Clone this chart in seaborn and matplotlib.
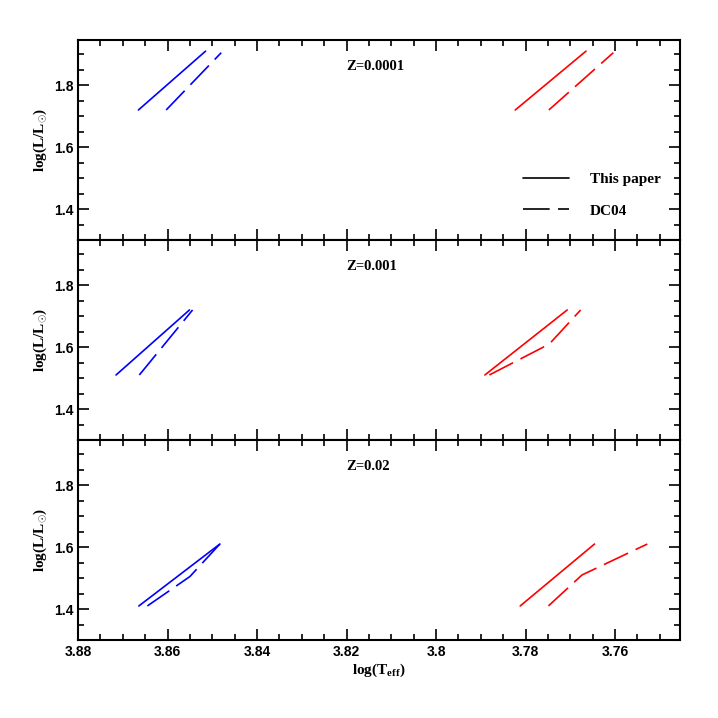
import matplotlib
matplotlib.use("Agg")
import matplotlib.pyplot as plt
import seaborn as sns
import pandas as pd
from matplotlib.lines import Line2D
from matplotlib.ticker import MultipleLocator

sns.set_theme(style="ticks")
plt.rcParams.update({
    "mathtext.fontset": "custom",
    "mathtext.rm": "Liberation Serif:bold",
    "mathtext.it": "Liberation Serif:bold",
    "mathtext.bf": "Liberation Serif:bold",
    "text.color": "black",
    "axes.labelcolor": "black",
    "xtick.color": "black",
    "ytick.color": "black",
    "axes.edgecolor": "black",
})

# ---- data (log Teff, log L) ----
Z_LABELS = ["Z=0.0001", "Z=0.001", "Z=0.02"]

# Z = 0.0001
z1_blue_this_T = [3.8665, 3.8515]
z1_blue_this_L = [1.72, 1.91]
z1_blue_dc_T = [3.8603, 3.8480]
z1_blue_dc_L = [1.72, 1.905]
z1_red_this_T = [3.7823, 3.7665]
z1_red_this_L = [1.72, 1.91]
z1_red_dc_T = [3.7748, 3.7604]
z1_red_dc_L = [1.72, 1.905]

# Z = 0.001
z2_blue_this_T = [3.8715, 3.8551]
z2_blue_this_L = [1.51, 1.72]
z2_blue_dc_T = [3.8663, 3.8544]
z2_blue_dc_L = [1.51, 1.72]
z2_red_this_T = [3.7891, 3.7707]
z2_red_this_L = [1.51, 1.72]
z2_red_dc_T = [3.7881, 3.7747, 3.7677]
z2_red_dc_L = [1.51, 1.61, 1.72]

# Z = 0.02
z3_blue_this_T = [3.8664, 3.8483]
z3_blue_this_L = [1.41, 1.61]
z3_blue_dc_T = [3.8645, 3.8550, 3.8483]
z3_blue_dc_L = [1.41, 1.505, 1.61]
z3_red_this_T = [3.7812, 3.7646]
z3_red_this_L = [1.41, 1.61]
z3_red_dc_T = [3.7749, 3.7674, 3.7528]
z3_red_dc_L = [1.41, 1.51, 1.61]

MODELS = ["This paper", "DC04"]
X_TICKS = [3.88, 3.86, 3.84, 3.82, 3.8, 3.78, 3.76]
X_TICK_LABELS = ["3.88", "3.86", "3.84", "3.82", "3.8", "3.78", "3.76"]
Y_TICKS = [1.4, 1.6, 1.8]
Y_TICK_LABELS = ["1.4", "1.6", "1.8"]

panels = [
    [("blue", "This paper", z1_blue_this_T, z1_blue_this_L),
     ("blue", "DC04", z1_blue_dc_T, z1_blue_dc_L),
     ("red", "This paper", z1_red_this_T, z1_red_this_L),
     ("red", "DC04", z1_red_dc_T, z1_red_dc_L)],
    [("blue", "This paper", z2_blue_this_T, z2_blue_this_L),
     ("blue", "DC04", z2_blue_dc_T, z2_blue_dc_L),
     ("red", "This paper", z2_red_this_T, z2_red_this_L),
     ("red", "DC04", z2_red_dc_T, z2_red_dc_L)],
    [("blue", "This paper", z3_blue_this_T, z3_blue_this_L),
     ("blue", "DC04", z3_blue_dc_T, z3_blue_dc_L),
     ("red", "This paper", z3_red_this_T, z3_red_this_L),
     ("red", "DC04", z3_red_dc_T, z3_red_dc_L)],
]

DASH = (16, 5)

fig = plt.figure(figsize=(7.18, 7.18), dpi=100)
gs = fig.add_gridspec(3, 1, left=78/718, right=680/718, top=1-40/718,
                      bottom=1-640/718, hspace=0)
axes = [fig.add_subplot(gs[i]) for i in range(3)]

tick_font = dict(family="Liberation Sans", weight="bold", size=10)
serif = dict(family="Liberation Serif", weight="bold")

for i, ax in enumerate(axes):
    rows = []
    for color, model, T, L in panels[i]:
        for t, l in zip(T, L):
            rows.append(dict(logT=t, logL=l, star=color, model=model))
    df = pd.DataFrame(rows)
    sns.lineplot(data=df, x="logT", y="logL", hue="star", style="model",
                 palette={"blue": "#0000ff", "red": "#ff0000"},
                 dashes={"This paper": "", "DC04": DASH},
                 sort=False, estimator=None, lw=1.2, legend=False, ax=ax)
    ax.set_xlim(3.88, 3.7455)
    ax.set_ylim(1.3, 1.946)
    ax.xaxis.set_major_locator(MultipleLocator(0.02))
    ax.xaxis.set_minor_locator(MultipleLocator(0.005))
    ax.yaxis.set_major_locator(MultipleLocator(0.2))
    ax.yaxis.set_minor_locator(MultipleLocator(0.05))
    ax.tick_params(which="both", direction="in", top=True, right=True,
                   bottom=True, left=True, color="black", width=1.2)
    ax.tick_params(which="major", length=8)
    ax.tick_params(which="minor", length=4)
    for s in ax.spines.values():
        s.set_linewidth(1.5)
        s.set_color("black")
    ax.set_yticks(Y_TICKS)
    ax.set_yticklabels(Y_TICK_LABELS, fontdict=tick_font)
    if i < 2:
        ax.tick_params(labelbottom=False)
        ax.set_xlabel("")
    else:
        ax.set_xticks(X_TICKS)
        ax.set_xticklabels(X_TICK_LABELS, fontdict=tick_font)
        ax.set_xlabel(r"log(T$_{\rm eff}$)", size=11, labelpad=2, **serif)
    ax.set_ylabel(r"log(L/L$_{\odot}$)", size=11, labelpad=3, **serif)
    ax.text(3.8201, 1.862, Z_LABELS[i], size=10.5, ha="left", va="center",
            **serif)

handles = [Line2D([], [], color="black", lw=1.2, ls="-"),
           Line2D([], [], color="black", lw=1.2, dashes=DASH)]
leg = axes[0].legend(handles, MODELS, loc="upper left",
                     bbox_to_anchor=(431/602, 0.405),
                     frameon=False, handlelength=3.0, handletextpad=1.4,
                     labelspacing=1.15,
                     prop=dict(family="Liberation Serif", weight="bold", size=11))

fig.savefig("out.png", dpi=100)
